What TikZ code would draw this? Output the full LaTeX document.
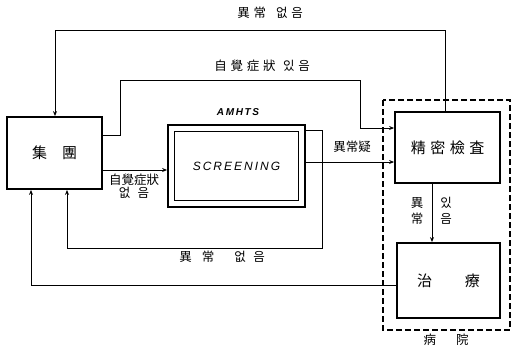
\documentclass[tikz,border=0pt]{standalone}
\usepackage{fontspec}
\setmainfont{Liberation Sans}
\newfontfamily\cjk{Noto Sans CJK KR}
\usetikzlibrary{arrows.meta}
\tikzset{
  box/.style={draw, line width=1.8pt, rectangle, inner sep=0pt, font=\cjk\fontsize{15}{16}\selectfont},
  conn/.style={line width=0.8pt},
  arr/.style={conn, -{Stealth[length=5pt,width=4pt]}},
  lbl/.style={font=\cjk\fontsize{12.5}{14}\selectfont, inner sep=1pt},
}
\newcommand{\gp}{\hspace{0.3em}}
\begin{document}
\begin{tikzpicture}[x=1pt,y=-1pt]
\useasboundingbox (0,0) rectangle (515,349);
% boxes
\node[box, minimum width=95pt, minimum height=72pt] (grp) at (54.5,153) {集\hspace{1em}團};
\node[box, minimum width=137pt, minimum height=82pt] (scr) at (236.5,166) {};
\node[draw, line width=1.2pt, minimum width=124pt, minimum height=69pt, inner sep=0pt, font=\itshape\large] (scri) at (236.5,166) {S\,C\,R\,E\,E\,N\,I\,N\,G};
\node[font=\bfseries\itshape\normalsize] (amh) at (238,112) {A\,M\,H\,T\,S};
\node[box, minimum width=105pt, minimum height=71pt] (pre) at (447.5,147.5) {精\gp 密\gp 檢\gp 査};
\node[box, minimum width=103pt, minimum height=75pt] (trt) at (448.5,280.5) {治\hspace{2.2em}療};
\draw[dashed, line width=1.2pt, dash pattern=on 6pt off 3pt] (383,100) rectangle (510,330);
\node[lbl] (hosp) at (446,340) {病\hspace{1.6em}院};
% coordinates
\coordinate (a1) at (445,30);
\coordinate (a2) at (55,30);
\coordinate (b1) at (120,135);
\coordinate (b2) at (120,80);
\coordinate (b3) at (360,80);
\coordinate (b4) at (360,128);
\coordinate (c1) at (322,130);
\coordinate (c2) at (322,248);
\coordinate (c3) at (67,248);
\coordinate (d1) at (31,285);
% connectors
\draw[arr] (pre.north -| a1) -- (a1) -- (a2) -- (grp.north -| a2);
\node[lbl] (t1) at (270,13) {異\gp 常\hspace{0.8em}없\gp 음};
\draw[arr] (grp.east |- b1) -- (b1) -- (b2) -- (b3) -- (b4) -- (pre.west |- b4);
\node[lbl] (t2) at (262,66) {自\gp 覺\gp 症\gp 狀\hspace{0.6em}있\gp 음};
\draw[arr] (grp.east |- 0,170) -- (scr.west |- 0,170);
\node[lbl, align=center] (t3) at (134,186) {自覺症狀\\[-1pt]없\hspace{0.6em}음};
\draw[arr] (scr.east |- 0,162) -- (pre.west |- 0,162);
\node[lbl] (t4) at (352,147) {異常疑};
\draw[arr] (scr.east |- c1) -- (c1) -- (c2) -- (c3) -- (grp.south -| c3);
\node[lbl] (t5) at (222,257) {異\hspace{0.8em}常\hspace{1.6em}없\hspace{0.6em}음};
\draw[arr] (trt.west |- d1) -- (d1) -- (grp.south -| d1);
\draw[arr] (pre.south -| 432,0) -- (trt.north -| 432,0);
\node[lbl, align=center] (t6) at (417,211) {異\\[2pt]常};
\node[lbl, align=center] (t7) at (446,211) {있\\[2pt]음};
\end{tikzpicture}
\end{document}
